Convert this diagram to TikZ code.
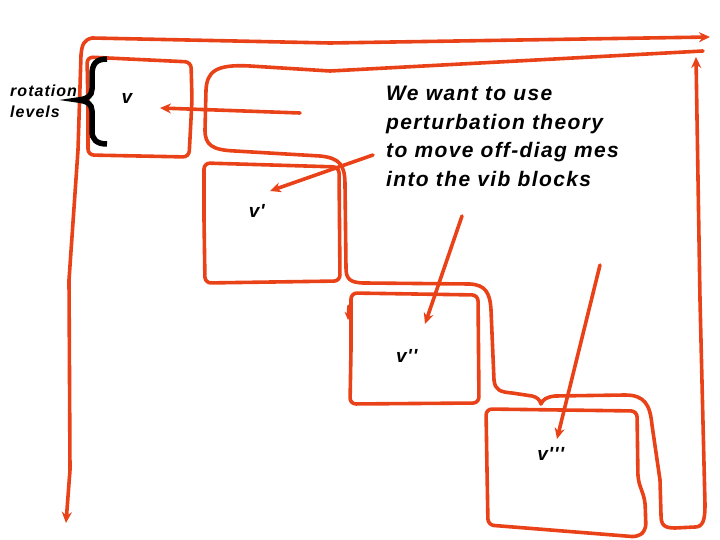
\documentclass[tikz,border=0pt]{standalone}
\usepackage{fontspec}
\setmainfont{Liberation Sans}
\newfontfamily\widefont[LetterSpace=6.5]{Liberation Sans}
\usetikzlibrary{arrows.meta}
\definecolor{pen}{RGB}{234,66,24}
\newcommand{\pq}{\kern0.5pt\symbol{39}\kern0.5pt}
\tikzset{
  stroke/.style={draw=pen, line width=3.6pt, line cap=round, line join=round},
  arr/.style={stroke, -{Stealth[length=11pt,width=10pt]}},
  lbl/.style={font=\widefont\fontsize{19}{20}\selectfont\bfseries\itshape, inner sep=0pt},
  note/.style={font=\widefont\fontsize{21}{28.5}\selectfont\bfseries\itshape, align=left, inner sep=0pt},
  side/.style={font=\widefont\fontsize{16}{21}\selectfont\bfseries\itshape, align=left, inner sep=0pt}
}
\begin{document}
\begin{tikzpicture}[x=1pt,y=-1pt]
\useasboundingbox (0,0) rectangle (720,540);
% coordinates
\coordinate (ltop) at (92,38);
\coordinate (lend) at (66,523);
\coordinate (tend) at (710,37);
\coordinate (cstart) at (703,51);
\coordinate (cend) at (696,57);
\coordinate (a1s) at (300,113);
\coordinate (a1e) at (160,108);
\coordinate (a2s) at (373,155);
\coordinate (a2e) at (270,191);
\coordinate (a3s) at (462,216);
\coordinate (a3e) at (425,324);
\coordinate (a4s) at (600,265);
\coordinate (a4e) at (557,439);
% matrix axes
\draw[arr] (ltop) .. controls (84,40) and (82,44) .. (81,55) -- (78,150) -- (69,280) -- (70,470) -- (lend);
\draw[arr] (ltop) -- (330,43) -- (tend);
% envelope contour
\draw[arr] (cstart) -- (480,63) -- (330,71) -- (250,66)
  .. controls (215,64) and (207,72) .. (206,90) -- (205,130)
  .. controls (205,145) and (212,150) .. (235,151) -- (320,156)
  .. controls (340,158) and (345,165) .. (345,185) -- (346,268)
  .. controls (346,279) and (350,283) .. (365,283) -- (470,284)
  .. controls (485,285) and (490,292) .. (491,310) -- (494,380)
  .. controls (495,390) and (500,392) .. (512,393) -- (532,396)
  .. controls (537,397) and (540,400) .. (541,404)
  .. controls (543,399) and (547,397) .. (555,396) -- (625,395)
  .. controls (645,395) and (650,405) .. (652,425) -- (660,480) -- (661,515)
  .. controls (661,525) and (664,528) .. (675,528) -- (695,527)
  .. controls (703,527) and (705,520) .. (705,505) -- (700,300) -- (cend);
% blocks
\draw[stroke, rounded corners=6pt] (88,105) -- (87,57) -- (191,62) -- (192,100) -- (189,157) -- (88,155) -- cycle;
\draw[stroke, rounded corners=6pt] (204,220) -- (204,163) -- (339,167) -- (340,281) -- (205,283) -- cycle;
\draw[stroke, rounded corners=6pt] (351,350) -- (351,293) -- (478,295) -- (479,403) -- (350,404) -- cycle;
\draw[stroke, rounded corners=6pt] (487,470) -- (486,409) -- (637,411) -- (638,480) -- (645,500) -- (646,530) -- (638,537) -- (488,525) -- cycle;
\draw[arr, -{Stealth[length=8pt,width=8pt]}] (349,306) -- (348,320);
% brace
\draw[line width=5.5pt, line cap=butt] (107,59) .. controls (96,59) and (92,64) .. (92,75) -- (92,89) .. controls (92,96) and (87,99) .. (78,100) .. controls (87,101) and (92,104) .. (92,111) -- (92,131) .. controls (92,139) and (96,144) .. (107,144);
% arrows
\draw[arr] (a1s) -- (a1e);
\draw[arr] (a2s) -- (a2e);
\draw[arr] (a3s) -- (a3e);
\draw[arr] (a4s) -- (a4e);
% labels
\node[side, anchor=west] (rot) at (10,101) {rotation\\levels};
\node[lbl] (v0) at (127,98) {v};
\node[lbl] (v1) at (257,211) {v\pq};
\node[lbl] (v2) at (407,356) {v\pq\pq};
\node[lbl] (v3) at (551,454) {v\pq\pq\pq};
\node[note, anchor=north west] (txt) at (386,86) {We want to use\\perturbation theory\\to move off-diag mes\\into the vib blocks};
\end{tikzpicture}
\end{document}
